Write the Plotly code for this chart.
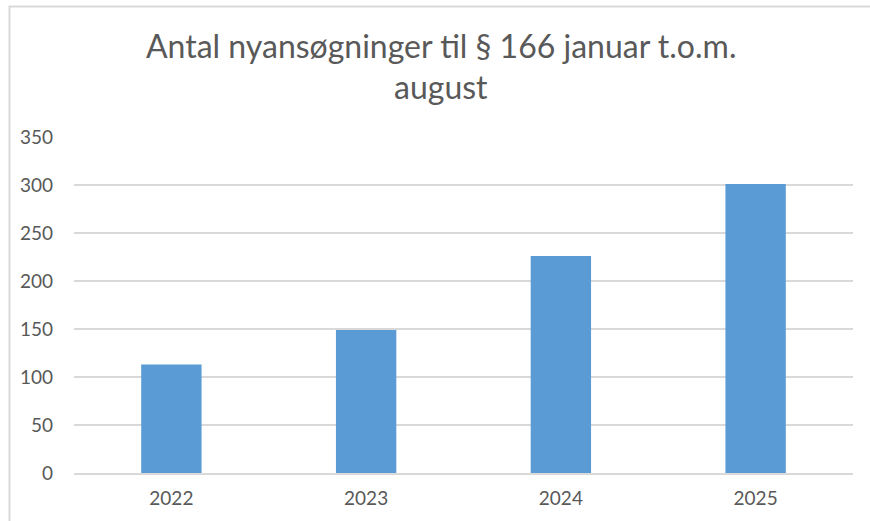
import plotly.graph_objects as go

years = ["2022", "2023", "2024", "2025"]
applications = [113, 149, 226, 301]
y_ticks = [0, 50, 100, 150, 200, 250, 300, 350]
title_line1 = "Antal nyansøgninger til § 166 januar t.o.m."
title_line2 = "august"

W, H = 870, 521
# plot area in window pixels
PX0, PX1, PY0, PY1 = 74, 853, 137, 473
L = PX0
R = W - PX1
T = PY0
B = H - PY1
pw, ph = PX1 - PX0, PY1 - PY0

def px_x(px):
    return (px - PX0) / pw

def px_y(py):
    return (PY1 - py) / ph

FONT = "Lato"
GREY = "#595959"

fig = go.Figure(go.Bar(
    x=years, y=applications,
    marker=dict(color="#5b9bd5", line=dict(width=0)),
    width=0.31,
))

fig.update_layout(
    width=W, height=H,
    margin=dict(l=L, r=R, t=T, b=B, pad=0),
    paper_bgcolor="white", plot_bgcolor="white",
    showlegend=False,
    font=dict(family=FONT, color=GREY),
)
fig.update_xaxes(
    showgrid=False, showline=True, linecolor="#d9d9d9", linewidth=1.5,
    tickfont=dict(family=FONT, size=19, color=GREY),
    ticks="", ticklabelstandoff=7,
)
fig.update_yaxes(
    range=[0, 350], tickvals=y_ticks, showgrid=True, gridcolor="#d9d9d9", gridwidth=1.5,
    zeroline=False, showline=False,
    tickfont=dict(family=FONT, size=19, color=GREY),
    ticks="", ticklabelstandoff=20,
)

fig.add_annotation(text=title_line1, xref="paper", yref="paper",
                   x=px_x(441), y=px_y(45), xanchor="center", yanchor="middle",
                   showarrow=False, font=dict(family=FONT, size=32, color=GREY))
fig.add_annotation(text=title_line2, xref="paper", yref="paper",
                   x=px_x(441), y=px_y(86), xanchor="center", yanchor="middle",
                   showarrow=False, font=dict(family=FONT, size=32, color=GREY))

fig.add_shape(type="rect", xref="paper", yref="paper",
              x0=px_x(9.5), x1=px_x(900), y0=px_y(560), y1=px_y(6.5),
              line=dict(color="#d9d9d9", width=2), fillcolor="rgba(0,0,0,0)", layer="below")

fig.write_html(
    "out.html",
    config={"displayModeBar": False},
    post_script="document.body.style.margin='0';document.body.style.overflow='hidden';",
)
